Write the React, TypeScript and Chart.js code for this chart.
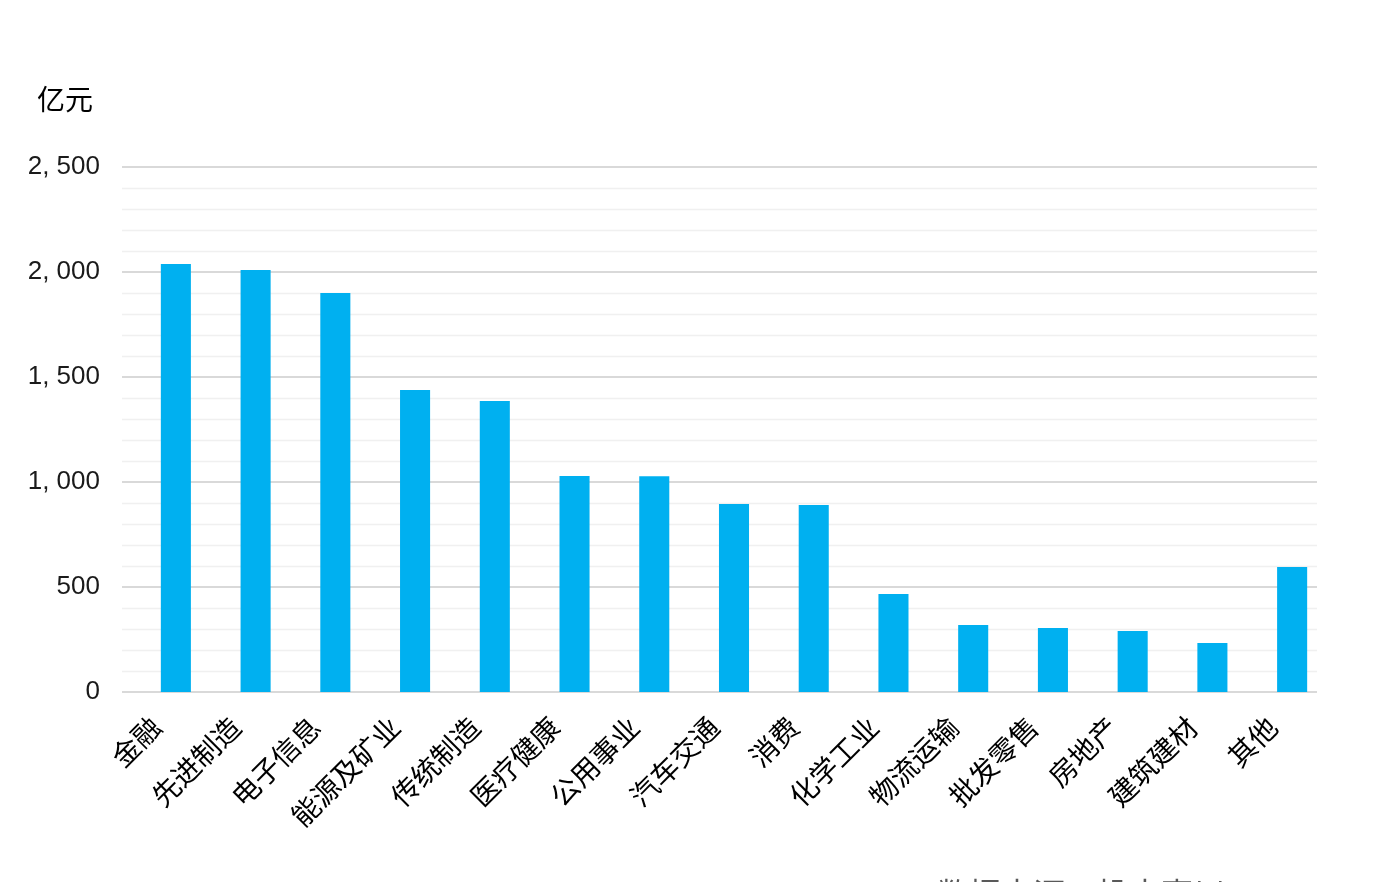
import React, { useEffect, useRef } from "react";
import { Chart, registerables } from "chart.js";

Chart.register(...registerables);

const categories = ["金融", "先进制造", "电子信息", "能源及矿业", "传统制造", "医疗健康", "公用事业", "汽车交通", "消费", "化学工业", "物流运输", "批发零售", "房地产", "建筑建材", "其他"];
const amounts = [2038, 2010, 1900, 1438, 1386, 1029, 1027, 895, 890, 467, 319, 305, 290, 233, 595];
const unitLabel = "亿元";
const sourceLabel = "数据来源：投中嘉川";

const W = 1393;
const H = 882;
const GRID_LEFT = 122;
const GRID_RIGHT = 1317;

const gridPlugin = {
  id: "offsetGrid",
  beforeDatasetsDraw(chart: any) {
    const y = chart.scales.y;
    const ctx = chart.ctx;
    ctx.save();
    y.ticks.forEach((t: any) => {
      const major = t.value % 500 === 0;
      const py = Math.round(y.getPixelForValue(t.value)) + (major ? 0 : 0.5);
      ctx.beginPath();
      ctx.strokeStyle = major ? "#d9d9d9" : "#f0f0f0";
      ctx.lineWidth = major ? 2 : 1.5;
      ctx.moveTo(GRID_LEFT, py);
      ctx.lineTo(GRID_RIGHT, py);
      ctx.stroke();
    });
    ctx.restore();
  },
};

export default function App() {
  const ref = useRef<HTMLCanvasElement>(null);
  useEffect(() => {
    if (!ref.current) return;
    const chart = new Chart(ref.current, {
      type: "bar",
      data: {
        labels: categories,
        datasets: [
          {
            data: amounts,
            backgroundColor: "#00B0F0",
            borderWidth: 0,
            categoryPercentage: 1,
            barPercentage: 0.377,
          },
        ],
      },
      plugins: [gridPlugin],
      options: {
        responsive: false,
        animation: false,
        layout: { padding: { top: 167, right: 61, left: 0, bottom: 0 } },
        plugins: { legend: { display: false }, tooltip: { enabled: false } },
        scales: {
          x: {
            grid: { display: false, drawTicks: false },
            border: { display: false },
            ticks: {
              color: "#000",
              maxRotation: 45,
              minRotation: 45,
              autoSkip: false,
              padding: 18,
              labelOffset: -20,
              font: { family: '"Noto Sans CJK SC", sans-serif', size: 28 },
            },
            afterFit: (s: any) => {
              s.height = 190;
            },
          },
          y: {
            min: 0,
            max: 2500,
            border: { display: false },
            grid: { display: false, drawTicks: false },
            ticks: {
              stepSize: 100,
              autoSkip: false,
              padding: 36,
              color: "#1a1a1a",
              font: { family: '"Liberation Sans", "Noto Sans CJK SC", sans-serif', size: 26 },
              callback: (v: any) => {
                const n = Number(v);
                if (n % 500 !== 0) return "";
                return n >= 1000 ? `${Math.floor(n / 1000)}, ${String(n % 1000).padStart(3, "0")}` : String(n);
              },
            },
            afterFit: (s: any) => {
              s.width = 136;
            },
          },
        },
      },
    });
    return () => chart.destroy();
  }, []);

  return (
    <div style={{ position: "fixed", left: 0, top: 0, width: W, height: H, background: "#fff", overflow: "hidden" }}>
      <canvas ref={ref} width={W} height={H} style={{ position: "absolute", left: 0, top: 0 }} />
      <div
        style={{
          position: "absolute",
          left: 37,
          top: 81,
          fontFamily: '"Noto Sans CJK SC", sans-serif',
          fontSize: 28,
          lineHeight: "34px",
          color: "#000",
        }}
      >
        {unitLabel}
      </div>
      <div
        style={{
          position: "absolute",
          left: 937,
          top: 872,
          fontFamily: '"Noto Sans CJK SC", sans-serif',
          fontSize: 32,
          lineHeight: "40px",
          color: "#595959",
          whiteSpace: "nowrap",
        }}
      >
        {sourceLabel}
      </div>
    </div>
  );
}
